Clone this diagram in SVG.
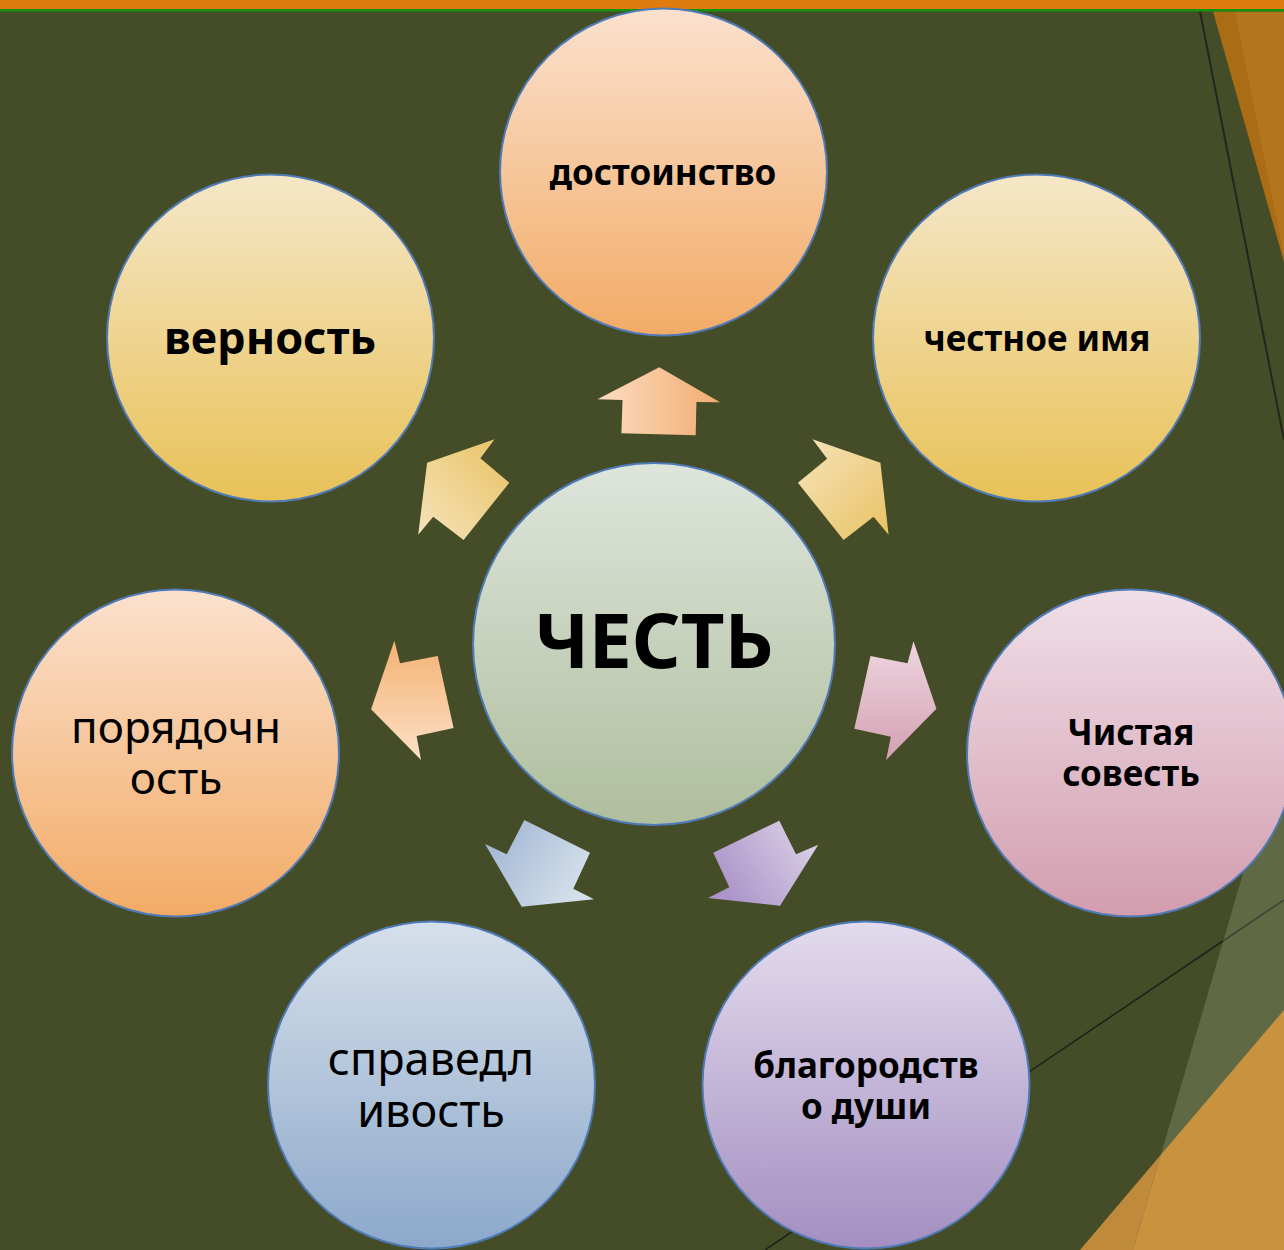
<svg xmlns="http://www.w3.org/2000/svg" width="1284" height="1250" viewBox="0 0 1284 1250">
<defs>
<style>
.node circle{stroke:#4f7ab8;stroke-width:2}
.t{font-family:"Noto Sans","Open Sans","DejaVu Sans",sans-serif;fill:#000;text-anchor:middle}
.b{font-weight:bold}
</style>
<linearGradient id="gOr" x1="0" y1="0" x2="0" y2="1"><stop offset="0" stop-color="#fbe1ce"/><stop offset="1" stop-color="#f2ab66"/></linearGradient>
<linearGradient id="gYe" x1="0" y1="0" x2="0" y2="1"><stop offset="0" stop-color="#f5e7c8"/><stop offset="1" stop-color="#e8c157"/></linearGradient>
<linearGradient id="gCe" x1="0" y1="0" x2="0" y2="1"><stop offset="0" stop-color="#dee5dc"/><stop offset="1" stop-color="#afbe9d"/></linearGradient>
<linearGradient id="gPi" x1="0" y1="0" x2="0" y2="1"><stop offset="0" stop-color="#f0dfe7"/><stop offset="1" stop-color="#d29daf"/></linearGradient>
<linearGradient id="gBl" x1="0" y1="0" x2="0" y2="1"><stop offset="0" stop-color="#d6e0eb"/><stop offset="1" stop-color="#8ca8ca"/></linearGradient>
<linearGradient id="gPu" x1="0" y1="0" x2="0" y2="1"><stop offset="0" stop-color="#e3dbed"/><stop offset="1" stop-color="#a38fc1"/></linearGradient>
<linearGradient id="aTop" x1="0" y1="0" x2="1" y2="0"><stop offset="0" stop-color="#fcdcc2"/><stop offset="1" stop-color="#f2ad70"/></linearGradient>
<linearGradient id="aUL" x1="0" y1="1" x2="1" y2="0"><stop offset="0" stop-color="#f6e3bc"/><stop offset="1" stop-color="#e8c262"/></linearGradient>
<linearGradient id="aUR" x1="0" y1="0" x2="1" y2="1"><stop offset="0" stop-color="#f6e3bc"/><stop offset="1" stop-color="#e8c262"/></linearGradient>
<linearGradient id="aL" x1="0" y1="0" x2="0" y2="1"><stop offset="0" stop-color="#f3b274"/><stop offset="1" stop-color="#fde0c6"/></linearGradient>
<linearGradient id="aR" x1="0" y1="0" x2="0" y2="1"><stop offset="0" stop-color="#eed6e0"/><stop offset="1" stop-color="#d3a0b2"/></linearGradient>
<linearGradient id="aBL" x1="0" y1="0" x2="1" y2="0.5"><stop offset="0" stop-color="#9cb2d2"/><stop offset="1" stop-color="#d3dfea"/></linearGradient>
<linearGradient id="aBR" x1="0" y1="0.5" x2="1" y2="0"><stop offset="0" stop-color="#ac96c9"/><stop offset="1" stop-color="#e0d6ea"/></linearGradient>
</defs>

<g id="background">
<rect width="1284" height="1250" fill="#454d28"/>
<polygon points="1284,733 1133,1250 1284,1250" fill="#5f6944"/>
<polygon points="1160.7,1155 1080,1250 1133,1250" fill="#c08a3c"/>
<polygon points="1284,1010 1160.7,1155 1133,1250 1284,1250" fill="#c8923f"/>
<polygon points="1213,11.5 1284,11.5 1284,262" fill="#ab6c16"/>
<polygon points="1235,11.5 1284,11.5 1284,255" fill="#b4761c"/>
<line x1="1200" y1="11.5" x2="1284" y2="440" stroke="#23261c" stroke-width="2"/>
<line x1="765" y1="1250" x2="1223" y2="941" stroke="#1f2219" stroke-width="1.6"/>
<line x1="1223" y1="941" x2="1284" y2="900" stroke="#3f4534" stroke-width="1.6"/>
<rect x="0" y="0" width="1284" height="9.5" fill="#e07c0f"/>
<rect x="0" y="9" width="1284" height="2.6" fill="#16900f"/>
</g>

<g id="connectors">
<polygon fill="url(#aTop)" points="659.3,367.3 597.5,399.3 622.5,400 621.4,433.3 695.7,435.3 696.4,402 720,402.3"/>
<polygon fill="url(#aUL)" points="427.1,462.7 494.6,439.3 480.4,458.3 509.3,482.7 463.6,540 433.2,516.7 418.2,534.7"/>
<polygon fill="url(#aUR)" points="812.5,439.3 880.4,462.7 888.6,534.7 873.6,516.7 843.6,540 797.9,482.7 827.1,458.7"/>
<polygon fill="url(#aL)" points="394.4,640.7 400,663.3 437.7,656 453.6,728 416.6,736 421,760 371.1,709.3"/>
<polygon fill="url(#aR)" points="913.5,641.3 936.4,708.7 886.1,760 890.9,736.7 854.3,728.7 870.5,656 907.5,663.3"/>
<polygon fill="url(#aBL)" points="524.3,820 590,852.7 573.3,888.7 594,899.3 521.7,906.7 485,844 506.7,854.3"/>
<polygon fill="url(#aBR)" points="779.3,820.7 796,854.3 818.3,844.7 780,905.7 708,898 729.3,887.3 713.3,852.7"/>
</g>

<g id="node-center" class="node">
<circle cx="654" cy="644" r="181" fill="url(#gCe)"/>
<text class="t b" x="654" y="668" font-size="76">ЧЕСТЬ</text>
</g>
<g id="node-dostoinstvo" class="node">
<circle cx="663.5" cy="172" r="163.5" fill="url(#gOr)"/>
<text class="t b" x="663" y="185" font-size="35">достоинство</text>
</g>
<g id="node-chestnoe-imya" class="node">
<circle cx="1036.5" cy="338" r="163.5" fill="url(#gYe)"/>
<text class="t b" x="1037" y="351" font-size="35">честное имя</text>
</g>
<g id="node-vernost" class="node">
<circle cx="270.5" cy="338" r="163.5" fill="url(#gYe)"/>
<text class="t b" x="270" y="354" font-size="45">верность</text>
</g>
<g id="node-poryadochnost" class="node">
<circle cx="175.5" cy="753" r="163.5" fill="url(#gOr)"/>
<text class="t" font-size="44"><tspan x="176" y="743">порядочн</tspan><tspan x="176" y="794">ость</tspan></text>
</g>
<g id="node-chistaya-sovest" class="node">
<circle cx="1130.5" cy="753" r="163.5" fill="url(#gPi)"/>
<text class="t b" font-size="35"><tspan x="1131" y="745">Чистая</tspan><tspan x="1131" y="786">совесть</tspan></text>
</g>
<g id="node-spravedlivost" class="node">
<circle cx="431.5" cy="1085" r="163.5" fill="url(#gBl)"/>
<text class="t" font-size="45"><tspan x="431" y="1075">справедл</tspan><tspan x="431" y="1127">ивость</tspan></text>
</g>
<g id="node-blagorodstvo" class="node">
<circle cx="866" cy="1085" r="163.5" fill="url(#gPu)"/>
<text class="t b" font-size="35"><tspan x="866" y="1078">благородств</tspan><tspan x="866" y="1119">о души</tspan></text>
</g>
</svg>
